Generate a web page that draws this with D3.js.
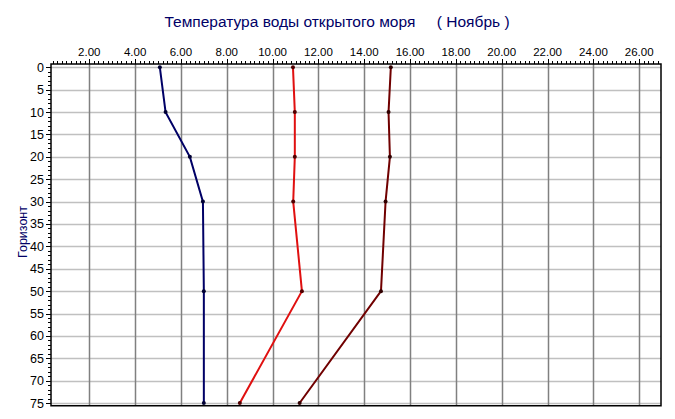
<!DOCTYPE html>
<html>
<head>
<meta charset="utf-8">
<script src="https://cdn.jsdelivr.net/npm/d3@7"></script>
<style>
  html, body { margin: 0; padding: 0; background: #fff; }
  svg { display: block; }
</style>
</head>
<body>
<svg id="chart" width="675" height="419"></svg>
<script>
const depths = [0, 10, 20, 30, 50, 75];
const seriesBlue = [5.08, 5.33, 6.39, 6.96, 7.0, 7.0];
const seriesRed = [10.89, 10.97, 10.97, 10.9, 11.28, 8.57];
const seriesDark = [15.16, 15.06, 15.12, 14.93, 14.73, 11.18];
const xTicks = [2, 4, 6, 8, 10, 12, 14, 16, 18, 20, 22, 24, 26];
const yTicks = [0, 5, 10, 15, 20, 25, 30, 35, 40, 45, 50, 55, 60, 65, 70, 75];
const titleText = "Температура воды открытого моря     ( Ноябрь )";
const yLabelText = "Горизонт";

const series = [
  { values: seriesBlue, color: "#000066", dot: "#000033" },
  { values: seriesRed, color: "#e01010", dot: "#500000" },
  { values: seriesDark, color: "#700000", dot: "#300000" }
];

const svg = d3.select("#chart");
const L = 51, R = 661, T = 64, B = 405.7;
const x = d3.scaleLinear().domain([0.33, 26.95]).range([L, R]);
const y = d3.scaleLinear().domain([-0.75, 75.6]).range([T, B]);

// title
svg.append("text")
  .attr("x", 337).attr("y", 27)
  .attr("text-anchor", "middle")
  .attr("font-family", "Liberation Sans, Arial, sans-serif")
  .attr("font-size", 15.5)
  .attr("fill", "#000066")
  .style("white-space", "pre")
  .attr("xml:space", "preserve")
  .text(titleText);

// y label
svg.append("text")
  .attr("transform", "translate(27,232) rotate(-90)")
  .attr("text-anchor", "middle")
  .attr("font-family", "Liberation Sans, Arial, sans-serif")
  .attr("font-size", 12.5)
  .attr("fill", "#000066")
  .text(yLabelText);

// horizontal gridlines
svg.append("g").selectAll("line").data(yTicks).join("line")
  .attr("x1", L).attr("x2", R)
  .attr("y1", d => Math.round(y(d)) + 0.5).attr("y2", d => Math.round(y(d)) + 0.5)
  .attr("stroke", "#c0c0c0").attr("stroke-width", 1.5);

// vertical gridlines
svg.append("g").selectAll("line").data(xTicks).join("line")
  .attr("x1", d => Math.round(x(d)) + 0.5).attr("x2", d => Math.round(x(d)) + 0.5)
  .attr("y1", T).attr("y2", B)
  .attr("stroke", "#808080").attr("stroke-width", 1.5);

// top axis
const topAxis = svg.append("g").attr("transform", `translate(0,${T})`);
const minorX = d3.range(0.4, 26.95, 0.2).filter(v => v >= 0.33);
topAxis.selectAll("line.minor").data(minorX).join("line")
  .attr("class", "minor")
  .attr("x1", d => Math.round(x(d)) + 0.5).attr("x2", d => Math.round(x(d)) + 0.5)
  .attr("y1", 0).attr("y2", -3)
  .attr("stroke", "#000").attr("stroke-width", 1);
topAxis.selectAll("line.major").data(xTicks).join("line")
  .attr("class", "major")
  .attr("x1", d => Math.round(x(d)) + 0.5).attr("x2", d => Math.round(x(d)) + 0.5)
  .attr("y1", 0).attr("y2", -5)
  .attr("stroke", "#000").attr("stroke-width", 1);
topAxis.selectAll("text").data(xTicks).join("text")
  .attr("x", d => x(d)).attr("y", -8)
  .attr("text-anchor", "middle")
  .attr("font-family", "Liberation Sans, Arial, sans-serif")
  .attr("font-size", 11.5)
  .attr("fill", "#000")
  .text(d => d.toFixed(2));

// left axis
const leftAxis = svg.append("g").attr("transform", `translate(${L},0)`);
const minorY = d3.range(0, 76, 1);
leftAxis.selectAll("line.minor").data(minorY).join("line")
  .attr("class", "minor")
  .attr("x1", 0).attr("x2", -3)
  .attr("y1", d => Math.round(y(d)) + 0.5).attr("y2", d => Math.round(y(d)) + 0.5)
  .attr("stroke", "#000").attr("stroke-width", 1);
leftAxis.selectAll("line.major").data(yTicks).join("line")
  .attr("class", "major")
  .attr("x1", 0).attr("x2", -5)
  .attr("y1", d => Math.round(y(d)) + 0.5).attr("y2", d => Math.round(y(d)) + 0.5)
  .attr("stroke", "#000").attr("stroke-width", 1);
leftAxis.selectAll("text").data(yTicks).join("text")
  .attr("x", -7).attr("y", d => y(d) + 4.5)
  .attr("text-anchor", "end")
  .attr("font-family", "Liberation Sans, Arial, sans-serif")
  .attr("font-size", 12.5)
  .attr("fill", "#000")
  .text(d => d);

// frame: top, left, bottom, right
svg.append("path")
  .attr("d", `M${L},${T}H${R}V${B}H${L}Z`)
  .attr("fill", "none").attr("stroke", "#000").attr("stroke-width", 1.5);

// series lines
const line = d3.line().x(d => x(d[0])).y(d => y(d[1]));
series.forEach(s => {
  const pts = depths.map((dp, i) => [s.values[i], dp]);
  svg.append("path")
    .attr("d", line(pts))
    .attr("fill", "none")
    .attr("stroke", s.color)
    .attr("stroke-width", 2);
  svg.append("g").selectAll("circle").data(pts).join("circle")
    .attr("cx", d => x(d[0])).attr("cy", d => y(d[1]))
    .attr("r", 2)
    .attr("fill", s.dot);
});
</script>
</body>
</html>
